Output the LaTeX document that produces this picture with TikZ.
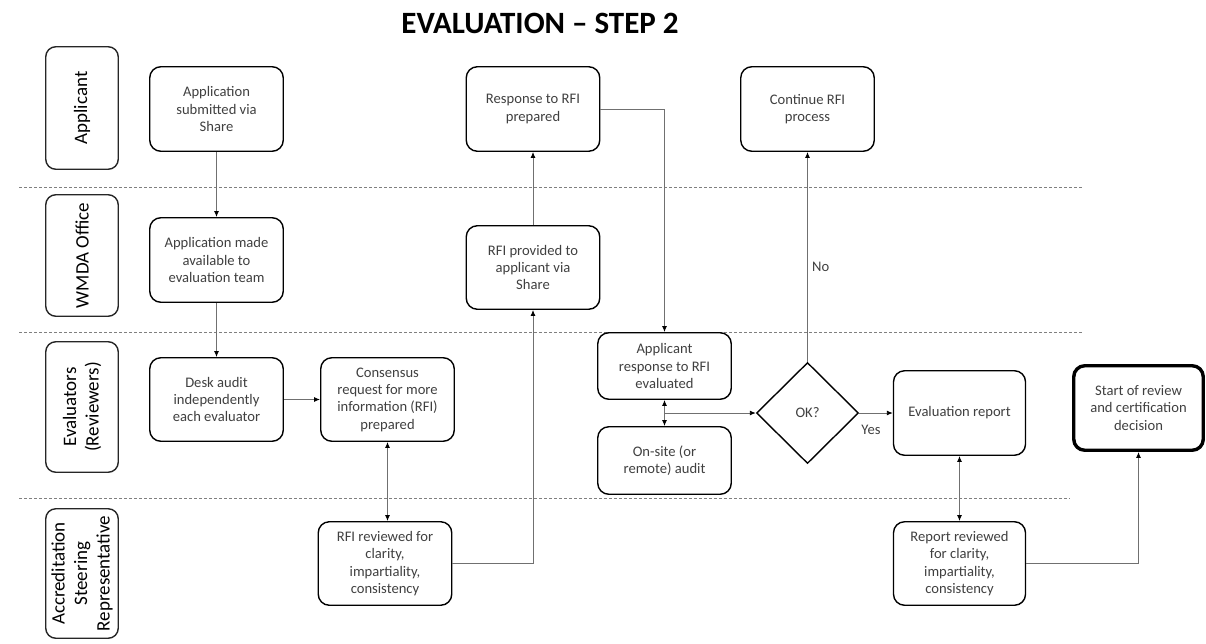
\documentclass[tikz,border=0pt]{standalone}
\usepackage{fontspec}
\setmainfont{Carlito}
\usetikzlibrary{arrows.meta,shapes.geometric}
\definecolor{txt}{HTML}{404040}
\definecolor{conn}{HTML}{707070}
\definecolor{dash}{HTML}{808080}
\tikzset{
  box/.style={draw=black, line width=1.4pt, rounded corners=11pt, fill=white,
    minimum width=133.5pt, minimum height=84.5pt, align=center, inner sep=2pt,
    text=txt, font=\fontsize{14.6}{17.3}\selectfont},
  lane/.style={draw=black!85, line width=1.4pt, rounded corners=10pt,
    minimum width=72.5pt, align=center, inner sep=0pt},
  lanetext/.style={rotate=90, align=center, inner sep=0pt, font=\fontsize{19}{22.5}\selectfont},
  conn/.style={draw=conn, line width=0.9pt},
  tip/.tip={Latex[length=6pt,width=5pt,black]},
  arr/.style={conn, -tip},
  darr/.style={conn, tip-tip},
  sep/.style={draw=dash, line width=0.8pt, dash pattern=on 3pt off 2pt},
  lbl/.style={text=txt, font=\fontsize{14.6}{17.3}\selectfont, inner sep=0pt}
}
\begin{document}
\begin{tikzpicture}[x=1pt,y=-1pt]
\useasboundingbox (0,0) rectangle (1206,643);
% title
\node[anchor=base, font=\fontsize{31}{36}\bfseries\selectfont, inner sep=0pt] (title) at (540,33) {EVALUATION – STEP 2};
% separators
\coordinate (s1a) at (19,187); \coordinate (s1b) at (1082,187);
\coordinate (s2a) at (19,332); \coordinate (s2b) at (1082,332);
\coordinate (s3a) at (19,498); \coordinate (s3b) at (1070,498);
\draw[sep] (s1a) -- (s1b);
\draw[sep] (s2a) -- (s2b);
\draw[sep] (s3a) -- (s3b);
% lanes
\node[lane, minimum height=122.5pt] (l1) at (82,108) {};
\node[lanetext] at (l1) {Applicant};
\node[lane, minimum height=121.5pt] (l2) at (82,255.5) {};
\node[lanetext] at (l2) {WMDA Office};
\node[lane, minimum height=130.5pt] (l3) at (82,407) {};
\node[lanetext] at (l3) {Evaluators\\(Reviewers)};
\node[lane, minimum height=129.5pt] (l4) at (82,573.5) {};
\node[lanetext] at (l4) {Accreditation\\Steering\\Representative};
% boxes
\node[box] (sub) at (216.5,109) {Application\\submitted via\\Share};
\node[box] (made) at (216.5,260) {Application made\\available to\\evaluation team};
\node[box, minimum height=83.5pt] (desk) at (216.5,399.5) {Desk audit\\independently\\each evaluator};
\node[box, minimum height=83.5pt] (cons) at (387.5,399.5) {Consensus\\request for more\\information (RFI)\\prepared};
\node[box, minimum height=83.5pt] (rfirev) at (385,563.5) {RFI reviewed for\\clarity,\\impartiality,\\consistency};
\node[box] (resp) at (533,109) {Response to RFI\\prepared};
\node[box, minimum height=83.5pt] (prov) at (533,267.5) {RFI provided to\\applicant via\\Share};
\node[box, minimum height=66.5pt] (appresp) at (664.5,366) {Applicant\\response to RFI\\evaluated};
\node[box, minimum height=67.5pt] (onsite) at (664.5,460.5) {On-site (or\\remote) audit};
\node[box] (cont) at (807.5,109) {Continue RFI\\process};
\node[draw=black, line width=1.4pt, diamond, minimum width=102pt, minimum height=101pt, inner sep=0pt, text=txt, font=\fontsize{14.6}{17.3}\selectfont] (ok) at (807.5,413) {OK?};
\node[box, minimum width=132pt] (evalrep) at (959.5,413) {Evaluation report};
\node[box, minimum width=132pt, minimum height=83.5pt] (reprev) at (959.5,563.5) {Report reviewed\\for clarity,\\impartiality,\\consistency};
\node[box, line width=3.4pt, minimum width=129.5pt, minimum height=84.5pt] (start) at (1138.5,408) {Start of review\\and certification\\decision};
% connectors
\draw[arr] (sub.south) -- (made.north);
\draw[arr] (made.south) -- (desk.north);
\draw[arr] (desk.east) -- (cons.west);
\draw[darr] (cons.south) -- (cons.south |- rfirev.north);
\draw[arr] (rfirev.east) -| (prov.south);
\draw[arr] (prov.north) -- (resp.south);
\draw[arr] (resp.east) -| (appresp.north);
\draw[darr] (appresp.south) -- (onsite.north);
\coordinate (j) at (appresp.south |- ok.west);
\draw[arr] (j) -- (ok.west);
\draw[arr] (ok.north) -- (cont.south);
\node[lbl, anchor=west] (no) at (812,267) {No};
\draw[arr] (ok.east) -- (evalrep.west);
\node[lbl] (yes) at (871,430) {Yes};
\draw[darr] (evalrep.south) -- (reprev.north);
\draw[arr] (reprev.east) -| (start.south);
\end{tikzpicture}
\end{document}
